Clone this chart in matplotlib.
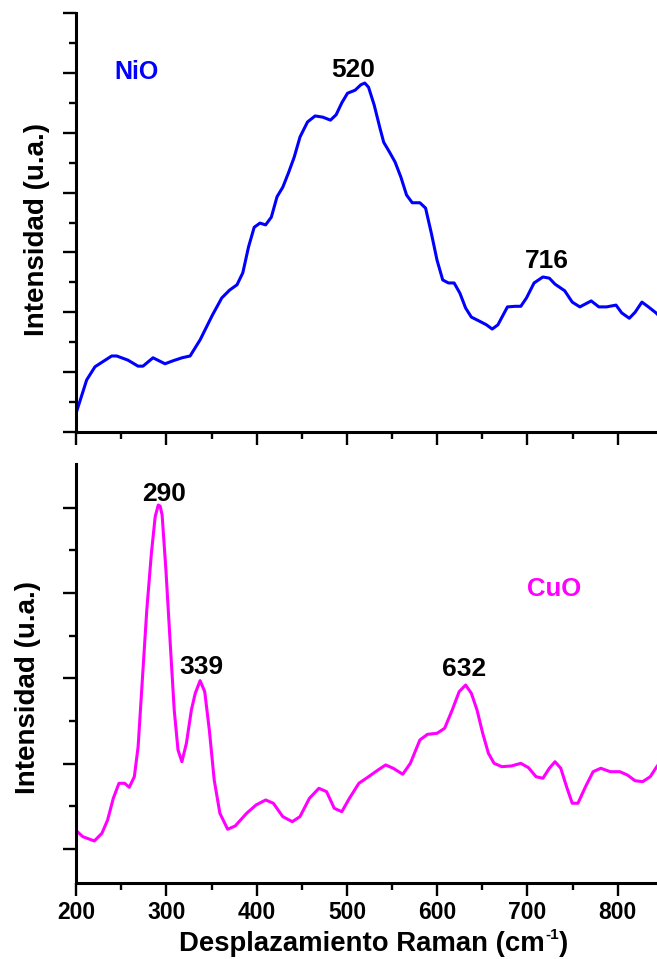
import numpy as np
import matplotlib.pyplot as plt

# espectros Raman (u.a.)
nio_x = [200, 211.6, 220.8, 239.3, 244.9, 257.4, 268.5, 274, 285.1, 298.4, 307.3, 317.3, 326.2,
         337.3, 350.8, 361.3, 369.9, 378.2, 384.6, 390.9, 397.2, 403.6, 409.9, 416.2, 422.5,
         428.9, 435.2, 441.5, 448, 456.3, 464.7, 473.2, 481.7, 488, 494.3, 500.6, 509, 515.3,
         519.7, 523.9, 530.2, 536.5, 540.7, 547, 553.3, 559.7, 566, 572.3, 580.8, 587.1, 593.5,
         599.8, 606.1, 612.4, 618.7, 625.1, 631.5, 637.8, 648.3, 654.6, 660.9, 667.2, 677.8,
         686.3, 692.6, 698.9, 707.3, 717.1, 724.2, 730.5, 741.2, 749.6, 758, 770.6, 779.1,
         787.6, 798.1, 804.4, 812.8, 819.2, 826.8, 834, 842.4, 845]
nio_y = [32, 87, 109, 127, 127, 120, 110, 110, 124, 114, 119, 124, 127,
         154, 195, 224, 237, 246, 266, 309, 342, 349, 346, 359, 393,
         409, 433, 459, 493, 518, 528, 526, 521, 530, 550, 566, 571, 580,
         583, 576, 546, 508, 484, 468, 451, 426, 396, 383, 383, 374, 332,
         287, 254, 249, 249, 232, 207, 192, 184, 179, 172, 179, 209,
         210, 210, 224, 249, 259, 257, 247, 236, 217, 209, 219, 209,
         209, 212, 199, 190, 200, 217, 209, 199, 195]

cuo_x = [200, 207.3, 220.1, 228.5, 234.8, 241.1, 247.4, 253.7, 258.8, 264.4, 268.6, 272.8,
         278.2, 283.3, 287.5, 290.9, 293, 295.2, 299.4, 304.4, 308.6, 312.8, 317.1, 322.1, 327.6,
         331.9, 337.3, 342.4, 347.5, 352.9, 359.2, 367.8, 376.2, 388.8, 399.3, 409.9, 418.4,
         428.9, 439.4, 447.9, 458.4, 468.9, 477.4, 485.9, 494.3, 502.7, 513.2, 523.9, 534.4,
         542.8, 551.2, 561.8, 570.2, 580.8, 589.2, 599.8, 608.2, 616.6, 624.3, 631.5, 637.8,
         644.1, 650.4, 656.7, 663, 671.5, 682.1, 692.6, 701.1, 709.5, 717.1, 724.2, 730.5,
         736.9, 743.3, 749.6, 755.9, 764.3, 772.7, 781.2, 791.8, 802.3, 810.7, 819.2, 827.6,
         836, 842.5, 845]
cuo_y = [121.5, 114.4, 109.4, 118.4, 134, 159.4, 177, 177, 172.3, 184.7, 219.9, 290.2,
         380.1, 446.6, 489.5, 503.2, 502, 491.4, 427, 337.1, 262.9, 216, 202.3, 223.9, 262.9,
         282.5, 297.3, 284.4, 239.5, 180.9, 141.8, 123.1, 127, 141.8, 151.6, 157.4, 153.6,
         137.9, 132, 137.9, 159.4, 171.1, 167.2, 147.7, 143.7, 159.4, 177, 184.7, 192.6,
         198.5, 194.6, 187.6, 200.4, 227.8, 234.4, 235.6, 241.5, 262.9, 284.4, 292.2, 282.5,
         262.9, 235.6, 212.2, 200.4, 196.5, 197.3, 200.4, 195.3, 184.7, 182.9, 194.6, 202.3,
         194.6, 173, 153.6, 153.6, 173, 190.6, 194.6, 190.6, 190.6, 186.7, 180, 178.9,
         184.7, 195.3, 199]

# etiquetas de picos: (texto, x, y)
nio_picos = [('520', 506.5, 605), ('716', 721.3, 285)]
cuo_picos = [('290', 296.9, 516), ('339', 339, 313), ('632', 629.4, 311)]

plt.rcParams['font.family'] = ['Liberation Sans', 'DejaVu Sans']
plt.rcParams['font.weight'] = 'bold'

fig = plt.figure(figsize=(6.57, 9.59), dpi=100)
W, H = 657, 959


def px_axes(x0, y0, x1, y1):
    return fig.add_axes([x0 / W, 1 - y1 / H, (x1 - x0) / W, (y1 - y0) / H])


ax1 = px_axes(76.2, 13, 657, 432)
ax2 = px_axes(76.2, 464, 657, 883)

ax1.plot(nio_x, nio_y, color='#0000ff', lw=2.2, solid_joinstyle='round')
ax2.plot(cuo_x, cuo_y, color='#ff00ff', lw=2.2, solid_joinstyle='round')

ax1.set_ylim(0, 700)
ax1.set_yticks(np.arange(0, 701, 100))
ax1.set_yticks(np.arange(50, 700, 100), minor=True)
ax2.set_ylim(60.1, 551.3)
ax2.set_yticks(np.arange(100, 501, 100))
ax2.set_yticks(np.arange(150, 500, 100), minor=True)

for ax in (ax1, ax2):
    ax.set_xlim(200, 843.5)
    ax.set_xticks(np.arange(200, 801, 100))
    ax.set_xticks(np.arange(250, 844, 100), minor=True)
    ax.spines['top'].set_visible(False)
    ax.spines['right'].set_visible(False)
    for s in ('left', 'bottom'):
        ax.spines[s].set_linewidth(2.2)
    ax.tick_params(which='major', direction='out', length=9.2, width=1.7)
    ax.tick_params(which='minor', direction='out', length=4.8, width=1.7)
    ax.set_yticklabels([])
    ax.patch.set_alpha(0)

ax1.set_xticklabels([])
ax2.set_xticklabels([str(v) for v in range(200, 801, 100)], fontsize=16.5, fontweight='bold')
ax2.tick_params(axis='x', pad=4)

for txt, x, y in nio_picos:
    ax1.text(x, y, txt, ha='center', va='center', fontsize=19, fontweight='bold')
for txt, x, y in cuo_picos:
    ax2.text(x, y, txt, ha='center', va='center', fontsize=19, fontweight='bold')

ax1.text(266.5, 601, 'NiO', color='#0000ff', ha='center', va='center', fontsize=18, fontweight='bold')
ax2.text(729.3, 405, 'CuO', color='#ff00ff', ha='center', va='center', fontsize=18.5, fontweight='bold')

fig.text(37.5 / W, 1 - 230 / H, 'Intensidad (u.a.)', rotation=90, ha='center', va='center',
         fontsize=20, fontweight='bold')
fig.text(28.5 / W, 1 - 688 / H, 'Intensidad (u.a.)', rotation=90, ha='center', va='center',
         fontsize=20, fontweight='bold')

# título del eje x con superíndice pequeño
fig.canvas.draw()
r = fig.canvas.get_renderer()
yb = 1 - 951 / H
t1 = fig.text(179 / W, yb, 'Desplazamiento Raman (cm', ha='left', va='baseline',
              fontsize=19.8, fontweight='bold')
e1 = t1.get_window_extent(r)
t2 = fig.text(e1.x1 / W, yb + 12 / H, '-1', ha='left', va='baseline', fontsize=11, fontweight='bold')
e2 = t2.get_window_extent(r)
t3 = fig.text(e2.x1 / W, yb, ')', ha='left', va='baseline', fontsize=19.8, fontweight='bold')
e3 = t3.get_window_extent(r)
dx = (179 + 568) / 2 - (e1.x0 + e3.x1) / 2
for t in (t1, t2, t3):
    x, y = t.get_position()
    t.set_position((x + dx / W, y))

fig.savefig('out.png', dpi=100)
